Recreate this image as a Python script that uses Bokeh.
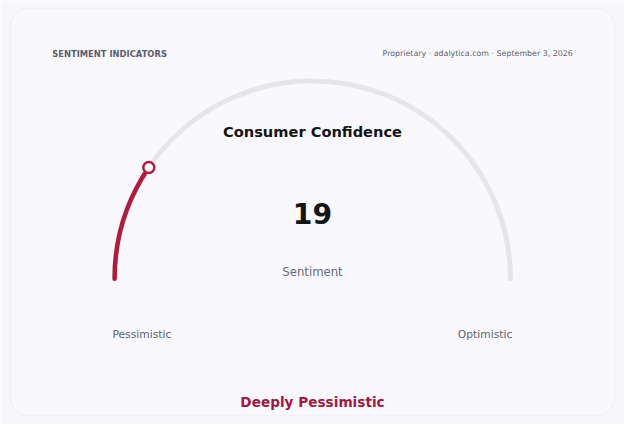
import math
from bokeh.plotting import figure
from bokeh.models import Range1d, BoxAnnotation
from bokeh.core.properties import value as V
from bokeh.embed import file_html
from bokeh.resources import INLINE

# ---- data ----
gauge_value = [19]
gauge_min = [0]
gauge_max = [100]
end_labels = ["Pessimistic", "Optimistic"]
title_text = ["Consumer Confidence"]
value_label = ["Sentiment"]
status_label = ["Deeply Pessimistic"]
header_left = ["SENTIMENT INDICATORS"]
header_right = ["Proprietary · adalytica.com · September 3, 2026"]

W, H = 624, 424
RW, RH = 640, 440           # design units
S = W / RW                  # uniform scale
pad = (RH - H / S) / 2

FONT = V("DejaVu Sans")
PAGE_BG = "#f7f7fb"
CARD_BG = "#f9f9fd"
RED = "#b31b3c"


def fs(px):
    return f"{px * S:.2f}px"


def Y(ref_y):
    return RH - ref_y


p = figure(width=W, height=H, output_backend="svg", toolbar_location=None,
           x_axis_location=None, y_axis_location=None,
           x_range=Range1d(0, RW), y_range=Range1d(pad, RH - pad), min_border=0)
p.grid.visible = False
p.outline_line_color = None
p.background_fill_color = PAGE_BG
p.border_fill_color = PAGE_BG

card = BoxAnnotation(left=10.5, right=629.5, bottom=Y(428.5), top=Y(11), border_radius=18,
                     fill_color=CARD_BG, fill_alpha=1.0,
                     line_color="#dedee8", line_width=1.2, level="underlay")
p.add_layout(card)

cx, cy, R = 320, Y(288), 203
v = gauge_value[0]
frac = (v - gauge_min[0]) / (gauge_max[0] - gauge_min[0])
ang = math.pi * (1 - frac)

# track
p.arc(x=[cx], y=[cy], radius=R, start_angle=0, end_angle=math.pi,
      line_color="#e5e5ea", line_width=5, line_cap="round")
# value arc
p.arc(x=[cx], y=[cy], radius=R, start_angle=ang, end_angle=math.pi,
      line_color=RED, line_width=4.5, line_cap="round")
# end marker
p.scatter(x=[cx + R * math.cos(ang)], y=[cy + R * math.sin(ang)], size=11,
          marker="circle", fill_color="#ffffff", line_color=RED, line_width=2.5)

# header
p.text(x=[53], y=[Y(57)], text=header_left, text_font=FONT, text_font_size=fs(8.6),
       text_font_style="bold", text_color="#5c5c70", text_baseline="middle", text_align="left")
p.text(x=[587], y=[Y(57)], text=header_right, text_font=FONT, text_font_size=fs(8.1),
       text_color="#5f5f6e", text_baseline="middle", text_align="right")

p.text(x=[cx], y=[Y(137)], text=title_text, text_font=FONT, text_font_size=fs(15),
       text_font_style="bold", text_color="#141414", text_baseline="middle", text_align="center")
p.text(x=[cx], y=[Y(221)], text=[str(v)], text_font=FONT, text_font_size=fs(29),
       text_font_style="bold", text_color="#141414", text_baseline="middle", text_align="center")
p.text(x=[cx], y=[Y(281)], text=value_label, text_font=FONT, text_font_size=fs(12),
       text_color="#6b6b78", text_baseline="middle", text_align="center")

p.text(x=[145, 497], y=[Y(345), Y(345)], text=end_labels, text_font=FONT, text_font_size=fs(11),
       text_color="#5f5f6e", text_baseline="middle", text_align="center")

p.text(x=[cx], y=[Y(414)], text=status_label, text_font=FONT, text_font_size=fs(14),
       text_font_style="bold", text_color="#a3173f", text_baseline="middle", text_align="center")

open("out.html", "w").write(file_html(p, INLINE))
